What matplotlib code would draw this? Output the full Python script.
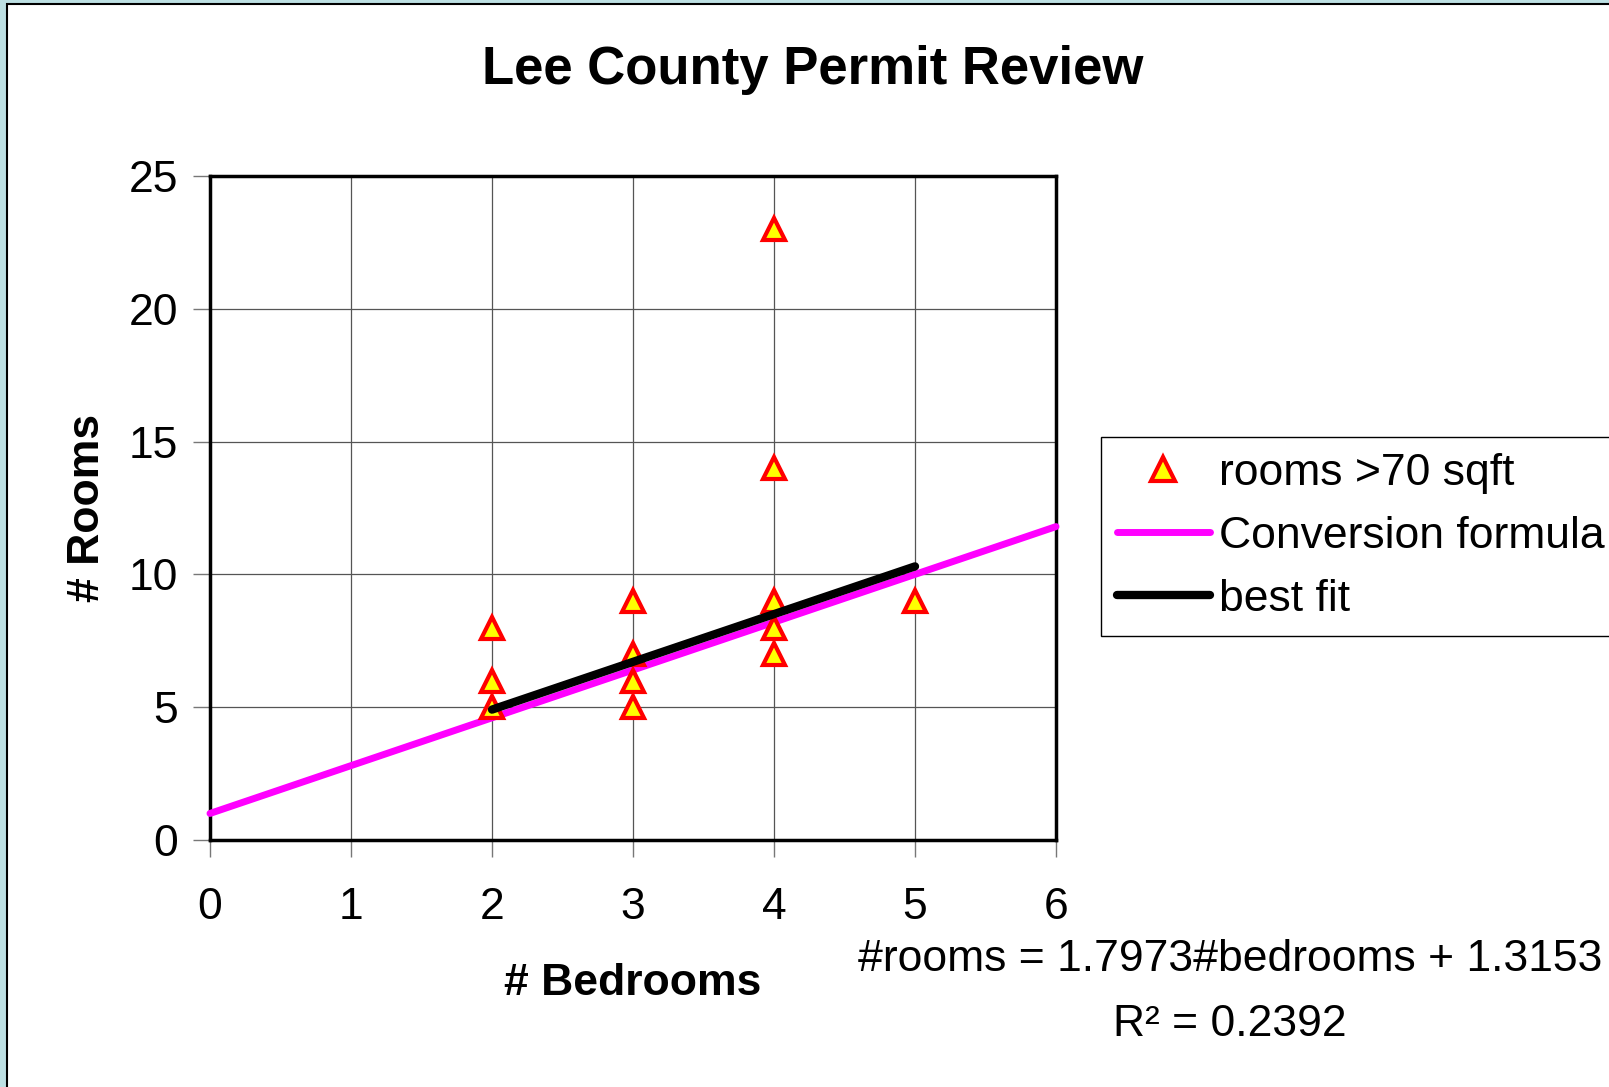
import matplotlib
matplotlib.use('Agg')
import matplotlib.pyplot as plt
from matplotlib.patches import Rectangle
import numpy as np

plt.rcParams['font.family'] = ['Liberation Sans', 'DejaVu Sans']

# data
bedrooms = [2, 2, 2, 3, 3, 3, 3, 4, 4, 4, 4, 4, 5]
rooms = [8, 6, 5, 9, 7, 6, 5, 23, 14, 9, 8, 7, 9]
conv_x = [0, 6]
conv_slope, conv_icpt = 1.8, 1.0
fit_x = [2, 5]
fit_slope, fit_icpt = 1.7973, 1.3153
r2 = 0.2392

fig = plt.figure(figsize=(16.09, 10.87), dpi=100, facecolor='#BDE0E3')
fig.patches.append(Rectangle((7 / 1609, -0.1), 1.2, 1.1 - 4 / 1087,
                             transform=fig.transFigure, facecolor='white',
                             edgecolor='black', linewidth=1.5, zorder=-10))

ax = fig.add_axes([210 / 1609, 1 - 840 / 1087, 846 / 1609, 664 / 1087])
ax.set_zorder(1)
ax.set_facecolor('white')

cx = np.array(conv_x)
ax.plot(cx, conv_slope * cx + conv_icpt, color='#FF00FF', lw=5,
        solid_capstyle='round', label='Conversion formula', zorder=3, clip_on=False)
ax.plot(bedrooms, rooms, linestyle='none', marker='^', ms=16, mfc='yellow',
        mec='red', mew=3, label='rooms >70 sqft', zorder=4, clip_on=False)
fx = np.array(fit_x)
ax.plot(fx, fit_slope * fx + fit_icpt, color='black', lw=6,
        solid_capstyle='round', label='best fit', zorder=5)

ax.set_xlim(0, 6)
ax.set_ylim(0, 25)
ax.set_xticks(range(0, 7))
ax.set_yticks(range(0, 26, 5))
ax.grid(True, color='#555555', lw=0.9)
ax.set_axisbelow(True)
for s in ax.spines.values():
    s.set_linewidth(2.5)
    s.set_color('black')
ax.tick_params(length=12, width=1, color='#777777', labelsize=32, direction='out')
ax.tick_params(axis='x', pad=22)
ax.tick_params(axis='y', pad=11)

ax.set_xlabel('# Bedrooms', fontsize=32, fontweight='bold', labelpad=25)
ax.set_ylabel('# Rooms', fontsize=32, fontweight='bold', labelpad=15)
fig.text(813 / 1609, 1 - 70 / 1087, 'Lee County Permit Review', fontsize=38,
         fontweight='bold', ha='center', va='center')

h, l = ax.get_legend_handles_labels()
order = [1, 0, 2]
leg = fig.legend([h[i] for i in order], [l[i] for i in order], fontsize=32,
                 loc='upper left', bbox_to_anchor=(1101 / 1609, 1 - 437 / 1087),
                 frameon=True, fancybox=False, edgecolor='black', framealpha=1,
                 borderpad=0.35, handlelength=2.1, handletextpad=0.2,
                 labelspacing=0.5, borderaxespad=0, markerscale=1.1)
leg.set_zorder(2)

fig.text(1230 / 1609, 1 - 992 / 1087,
         '#rooms = %.4f#bedrooms + %.4f\nR\u00b2 = %.4f' % (fit_slope, fit_icpt, r2),
         fontsize=32, ha='center', va='center', multialignment='center',
         linespacing=1.72)

fig.savefig('out.png', dpi=100, facecolor=fig.get_facecolor())
